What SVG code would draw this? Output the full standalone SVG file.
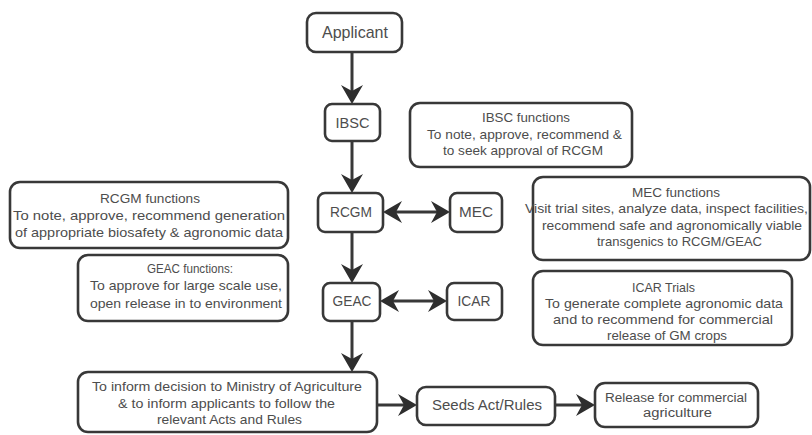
<svg xmlns="http://www.w3.org/2000/svg" width="812" height="435" viewBox="0 0 812 435">
<style>
.box{fill:#fff;stroke:#383838;stroke-width:2.6}
.t{font-family:"Liberation Sans",Arial,sans-serif;fill:#4d4d4d;text-anchor:middle}
.n{font-size:15px}
.f{font-size:13.5px}
.c{stroke:#383838;stroke-width:3;fill:none}
</style>
<defs>
<marker id="ah" markerUnits="userSpaceOnUse" markerWidth="19" markerHeight="22" viewBox="0 0 19 22" refX="13" refY="11" orient="auto-start-reverse">
<path d="M0,0 L19,11 L0,22 L6,11 Z" fill="#2e2e2e"/>
</marker>
</defs>
<rect width="812" height="435" fill="#fff"/>
<g id="connectors">
<line class="c" x1="352" y1="52" x2="352" y2="98" marker-end="url(#ah)"/>
<line class="c" x1="352" y1="141" x2="352" y2="187" marker-end="url(#ah)"/>
<line class="c" x1="389" y1="212" x2="444" y2="212" marker-start="url(#ah)" marker-end="url(#ah)"/>
<line class="c" x1="352" y1="232" x2="352" y2="277" marker-end="url(#ah)"/>
<line class="c" x1="386" y1="301" x2="441" y2="301" marker-start="url(#ah)" marker-end="url(#ah)"/>
<line class="c" x1="352" y1="321" x2="352" y2="366" marker-end="url(#ah)"/>
<line class="c" x1="377" y1="405" x2="411" y2="405" marker-end="url(#ah)"/>
<line class="c" x1="555" y1="405" x2="589" y2="405" marker-end="url(#ah)"/>
</g>
<g id="applicant">
<rect class="box" x="307" y="13" width="95" height="39" rx="9"/>
<text class="t" x="355" y="38" font-size="17" textLength="66" lengthAdjust="spacingAndGlyphs">Applicant</text>
</g>
<g id="ibsc">
<rect class="box" x="325" y="104" width="55" height="37" rx="7"/>
<text class="t n" x="352.5" y="128" textLength="34" lengthAdjust="spacingAndGlyphs">IBSC</text>
</g>
<g id="rcgm">
<rect class="box" x="318" y="193" width="65" height="39" rx="7"/>
<text class="t n" x="351" y="217" textLength="42" lengthAdjust="spacingAndGlyphs">RCGM</text>
</g>
<g id="mec">
<rect class="box" x="450" y="193" width="52" height="39" rx="7"/>
<text class="t n" x="476" y="217" textLength="34" lengthAdjust="spacingAndGlyphs">MEC</text>
</g>
<g id="geac">
<rect class="box" x="323" y="283" width="57" height="38" rx="7"/>
<text class="t n" x="352" y="306" textLength="39" lengthAdjust="spacingAndGlyphs">GEAC</text>
</g>
<g id="icar">
<rect class="box" x="447" y="283" width="55" height="37" rx="7"/>
<text class="t n" x="474" y="306" textLength="33" lengthAdjust="spacingAndGlyphs">ICAR</text>
</g>
<g id="ibsc-functions">
<rect class="box" x="410" y="103" width="222" height="64" rx="10"/>
<text class="t f" x="526" y="122" textLength="88" lengthAdjust="spacingAndGlyphs">IBSC functions</text>
<text class="t f" x="524.5" y="138.5" textLength="195" lengthAdjust="spacingAndGlyphs">To note, approve, recommend &amp;</text>
<text class="t f" x="523" y="155" textLength="160" lengthAdjust="spacingAndGlyphs">to seek approval of RCGM</text>
</g>
<g id="rcgm-functions">
<rect class="box" x="10" y="182" width="278" height="66" rx="10"/>
<text class="t f" x="150" y="203" textLength="100" lengthAdjust="spacingAndGlyphs">RCGM functions</text>
<text class="t f" x="149" y="220" textLength="272" lengthAdjust="spacingAndGlyphs">To note, approve, recommend generation</text>
<text class="t f" x="149" y="237" textLength="268" lengthAdjust="spacingAndGlyphs">of appropriate biosafety &amp; agronomic data</text>
</g>
<g id="geac-functions">
<rect class="box" x="78" y="255" width="210" height="66" rx="10"/>
<text class="t f" x="190" y="273" textLength="86" lengthAdjust="spacingAndGlyphs">GEAC functions:</text>
<text class="t f" x="186" y="290" textLength="192" lengthAdjust="spacingAndGlyphs">To approve for large scale use,</text>
<text class="t f" x="186" y="307.5" textLength="192" lengthAdjust="spacingAndGlyphs">open release in to environment</text>
</g>
<g id="mec-functions">
<rect class="box" x="533" y="177" width="277" height="83" rx="10"/>
<text class="t f" x="676" y="197" textLength="88" lengthAdjust="spacingAndGlyphs">MEC functions</text>
<text class="t f" x="666.5" y="213.3" textLength="283" lengthAdjust="spacingAndGlyphs">Visit trial sites, analyze data, inspect facilities,</text>
<text class="t f" x="672" y="229.6" textLength="260" lengthAdjust="spacingAndGlyphs">recommend safe and agronomically viable</text>
<text class="t f" x="679.5" y="246" textLength="165" lengthAdjust="spacingAndGlyphs">transgenics to RCGM/GEAC</text>
</g>
<g id="icar-trials">
<rect class="box" x="533" y="271" width="259" height="74" rx="10"/>
<text class="t f" x="663.5" y="292" textLength="63" lengthAdjust="spacingAndGlyphs">ICAR Trials</text>
<text class="t f" x="664" y="308" textLength="238" lengthAdjust="spacingAndGlyphs">To generate complete agronomic data</text>
<text class="t f" x="663" y="324" textLength="220" lengthAdjust="spacingAndGlyphs">and to recommend  for commercial</text>
<text class="t f" x="667" y="340" textLength="120" lengthAdjust="spacingAndGlyphs">release of GM crops</text>
</g>
<g id="inform">
<rect class="box" x="78" y="372" width="299" height="60" rx="10"/>
<text class="t f" x="227" y="391" textLength="270" lengthAdjust="spacingAndGlyphs">To inform decision to Ministry of Agriculture</text>
<text class="t f" x="226.5" y="407.5" textLength="217" lengthAdjust="spacingAndGlyphs">&amp; to inform applicants to follow the</text>
<text class="t f" x="229.5" y="424" textLength="145" lengthAdjust="spacingAndGlyphs">relevant Acts and Rules</text>
</g>
<g id="seeds">
<rect class="box" x="417" y="387" width="138" height="38" rx="9"/>
<text class="t n" x="487" y="410" textLength="110" lengthAdjust="spacingAndGlyphs">Seeds Act/Rules</text>
</g>
<g id="release">
<rect class="box" x="595" y="383" width="163" height="44" rx="10"/>
<text class="t" x="676" y="402" font-size="12" textLength="142" lengthAdjust="spacingAndGlyphs">Release for commercial</text>
<text class="t" x="677.5" y="417" font-size="12" textLength="69" lengthAdjust="spacingAndGlyphs">agriculture</text>
</g>
</svg>
